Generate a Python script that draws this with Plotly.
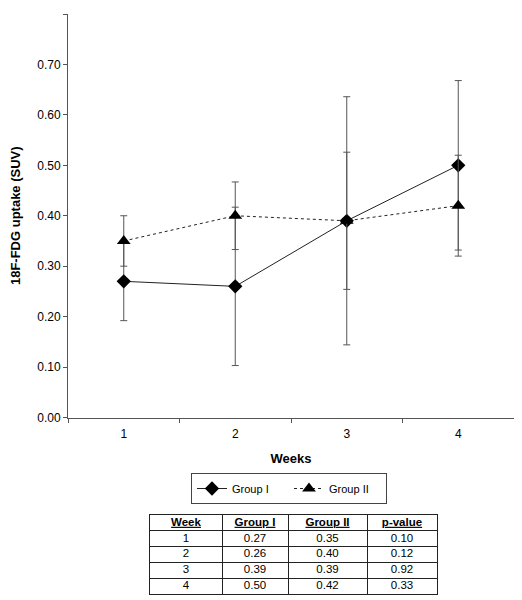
import plotly.graph_objects as go

weeks = ["1", "2", "3", "4"]
group1 = [0.27, 0.26, 0.39, 0.50]
group1_sd = [0.078, 0.157, 0.246, 0.168]
group2 = [0.35, 0.40, 0.39, 0.42]
group2_sd = [0.05, 0.067, 0.136, 0.10]
p_values = ["0.10", "0.12", "0.92", "0.33"]
table_headers = ["Week", "Group I", "Group II", "p-value"]
y_ticks = [0.0, 0.1, 0.2, 0.3, 0.4, 0.5, 0.6, 0.7, 0.8]

FONT = "Liberation Sans, Arial, Helvetica, sans-serif"
OFF = 8  # page body margin
W, H = 522 - OFF, 600 - OFF
ML, MR, MT, MB = 60, 8, 2, 1
plot_h = H - MT - MB
plot_w = W - ML - MR

def clamp(v):
    return max(0.0, min(1.0, v))

def py(pix):
    return clamp((H - MB - (pix - OFF)) / plot_h)

def px(pix):
    return clamp((pix - OFF - ML) / plot_w)

fig = go.Figure()

fig.add_trace(go.Scatter(
    x=weeks, y=group1, name="Group I", mode="lines+markers",
    line=dict(color="#222222", width=1, dash="solid"),
    marker=dict(symbol="diamond", size=11, color="black"),
    error_y=dict(type="data", array=group1_sd, visible=True,
                 color="#555555", thickness=1, width=3.5),
))
fig.add_trace(go.Scatter(
    x=weeks, y=group2, name="Group II", mode="lines+markers",
    line=dict(color="#222222", width=1, dash="dot"),
    marker=dict(symbol="triangle-up", size=12, color="black"),
    error_y=dict(type="data", array=group2_sd, visible=True,
                 color="#555555", thickness=1, width=3.5),
))

# ---- summary table drawn on its own pair of axes ----
col_widths = [72, 66, 79, 70]
bounds = [0]
for w in col_widths:
    bounds.append(bounds[-1] + w)
centers = [(bounds[i] + bounds[i + 1]) / 2 for i in range(len(col_widths))]
row_idx = list(range(len(weeks) + 1))

columns = [
    weeks,
    [f"{v:.2f}" for v in group1],
    [f"{v:.2f}" for v in group2],
    p_values,
]
for c, (head, vals) in enumerate(zip(table_headers, columns)):
    fig.add_trace(go.Scatter(
        x=[centers[c]] * len(row_idx), y=row_idx,
        text=[f"<b><u>{head}</u></b>"] + list(vals),
        mode="text", textposition="middle center",
        textfont=dict(family=FONT, size=11.5, color="black"),
        xaxis="x2", yaxis="y2", showlegend=False, hoverinfo="skip",
    ))

fig.update_layout(
    width=W, height=H,
    margin=dict(l=ML, r=MR, t=MT, b=MB, autoexpand=False),
    paper_bgcolor="white", plot_bgcolor="white",
    font=dict(family=FONT, size=12, color="black"),
    showlegend=True,
    legend=dict(
        orientation="h", x=px(289), xanchor="center", y=py(473), yanchor="top",
        bordercolor="#444444", borderwidth=1, bgcolor="white",
        font=dict(family=FONT, size=11, color="black"),
        entrywidth=52, entrywidthmode="pixels", tracegroupgap=0,
    ),
    xaxis=dict(
        type="category", range=[-0.5, 3.5], automargin=False,
        showline=True, linecolor="#555555", linewidth=1,
        ticks="outside", tickson="boundaries", ticklen=4, tickcolor="#555555",
        ticklabelstandoff=5,
        showgrid=False, zeroline=False,
        tickfont=dict(size=12),
        title=dict(text="<b>Weeks</b>", font=dict(size=13), standoff=13),
        anchor="y",
    ),
    yaxis=dict(
        domain=[py(417.5), py(14)], automargin=False,
        range=[0, 0.8], tickvals=y_ticks, tickformat=".2f",
        showline=True, linecolor="#555555", linewidth=1,
        ticks="outside", ticklen=4, tickcolor="#555555",
        showgrid=False, zeroline=False,
        tickfont=dict(size=12),
        title=dict(text="<b>18F-FDG uptake (SUV)</b>", font=dict(size=13), standoff=35),
    ),
    xaxis2=dict(
        domain=[px(150), px(437)], anchor="y2", automargin=False,
        range=[bounds[0], bounds[-1]],
        tickvals=bounds[1:-1], showticklabels=False, ticks="",
        showgrid=True, gridcolor="#222222", gridwidth=1,
        showline=True, mirror=True, linecolor="#222222", linewidth=1,
        zeroline=False, fixedrange=True,
    ),
    yaxis2=dict(
        domain=[py(594), py(515)], anchor="x2", automargin=False,
        range=[len(row_idx) - 0.5, -0.5],
        tickvals=[r + 0.5 for r in row_idx[:-1]], showticklabels=False, ticks="",
        showgrid=True, gridcolor="#222222", gridwidth=1,
        showline=True, mirror=True, linecolor="#222222", linewidth=1,
        zeroline=False, fixedrange=True,
    ),
)

fig.write_html("out.html")
